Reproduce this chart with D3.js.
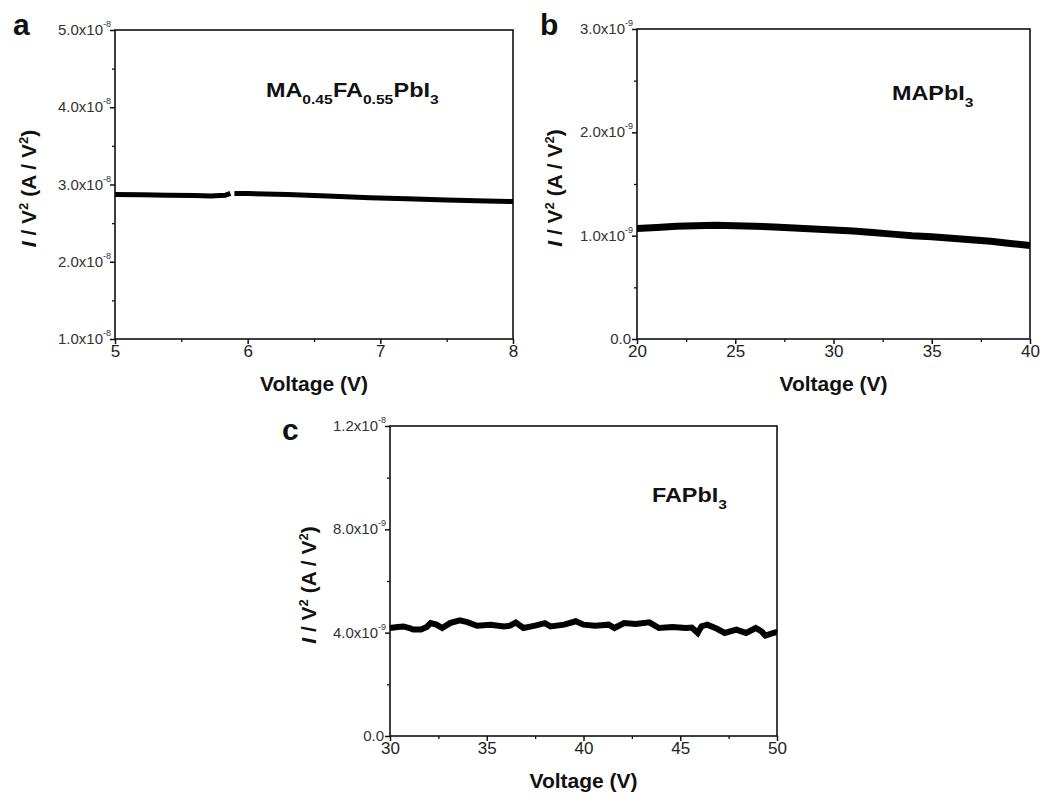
<!DOCTYPE html>
<html><head><meta charset="utf-8">
<script src="https://cdn.jsdelivr.net/npm/d3@7"></script>
<style>
body{margin:0;background:#fff;}
text{font-family:"Liberation Sans",Arial,sans-serif;}
</style></head>
<body><svg id="c" width="1052" height="799"></svg>
<script>
// ---- Panel a data (I/V^2 in units of 1e-8 A/V^2) ----
const aVoltage = [5.0, 5.2, 5.4, 5.6, 5.72, 5.83, 5.87, null, 5.9, 6.0, 6.3, 6.6, 6.92, 7.2, 7.5, 7.8, 8.0];
const aValue   = [2.87, 2.868, 2.862, 2.856, 2.85, 2.86, 2.885, null, 2.885, 2.882, 2.87, 2.85, 2.83, 2.815, 2.80, 2.787, 2.78];
const aYTicks = [1.0, 2.0, 3.0, 4.0, 5.0];
const aXTicks = [5, 6, 7, 8];

// ---- Panel b data (units of 1e-9 A/V^2) ----
const bVoltage = [20,21,22,23,24,25,26,27,28,29,30,31,32,33,34,35,36,37,38,39,40];
const bValue   = [1.07,1.08,1.09,1.095,1.10,1.095,1.09,1.085,1.075,1.065,1.055,1.045,1.03,1.015,1.0,0.99,0.975,0.96,0.945,0.925,0.905];
const bYTicks = [0, 1.0, 2.0, 3.0];
const bXTicks = [20, 25, 30, 35, 40];

// ---- Panel c data (units of 1e-9 A/V^2) ----
const cVoltage = [30,30.4,30.7,31.0,31.2,31.6,31.9,32.1,32.4,32.7,33.1,33.6,34.0,34.5,35.2,35.9,36.2,36.5,36.9,37.5,38.0,38.3,39.0,39.6,40.0,40.6,41.3,41.6,42.1,42.7,43.4,43.9,44.6,45.3,45.6,45.9,46.1,46.4,46.9,47.3,47.9,48.4,48.9,49.2,49.4,49.9,50];
const cValue   = [4.18,4.22,4.24,4.18,4.12,4.12,4.22,4.37,4.31,4.18,4.37,4.48,4.41,4.27,4.31,4.24,4.27,4.39,4.18,4.27,4.37,4.24,4.31,4.44,4.31,4.27,4.31,4.18,4.37,4.34,4.40,4.18,4.22,4.18,4.20,3.99,4.25,4.31,4.15,3.99,4.12,3.99,4.18,4.05,3.89,4.01,3.99];
const cYTicks = [0, 4.0, 8.0, 12.0];
const cXTicks = [30, 35, 40, 45, 50];

const svg = d3.select("#c");

function drawPanel(o){
  const g = svg.append("g");
  const x = d3.scaleLinear().domain(o.xDomain).range([o.left, o.right]);
  const y = d3.scaleLinear().domain(o.yDomain).range([o.bottom, o.top]);
  // minor ticks
  g.append("g").attr("transform",`translate(0,${o.bottom})`)
    .call(d3.axisBottom(x).tickValues(o.xMinor).tickSize(3).tickSizeOuter(0).tickFormat(""))
    .call(s=>{s.select(".domain").remove(); s.selectAll("line").attr("stroke","#111").attr("stroke-width",1.3);});
  g.append("g").attr("transform",`translate(${o.left},0)`)
    .call(d3.axisLeft(y).tickValues(o.yMinor).tickSize(3).tickSizeOuter(0).tickFormat(""))
    .call(s=>{s.select(".domain").remove(); s.selectAll("line").attr("stroke","#111").attr("stroke-width",1.3);});
  // major x
  g.append("g").attr("transform",`translate(0,${o.bottom})`)
    .call(d3.axisBottom(x).tickValues(o.xTicks).tickSize(5).tickSizeOuter(0).tickPadding(1).tickFormat(d3.format("d")))
    .call(s=>{s.select(".domain").remove();
      s.selectAll("line").attr("stroke","#111").attr("stroke-width",1.5);
      s.selectAll("text").attr("font-size",17).attr("fill","#222").attr("font-family","Liberation Sans, Arial");});
  // major y with custom labels
  const ya = g.append("g").attr("transform",`translate(${o.left},0)`)
    .call(d3.axisLeft(y).tickValues(o.yTicks).tickSize(5).tickSizeOuter(0).tickFormat(""));
  ya.select(".domain").remove();
  ya.selectAll("line").attr("stroke","#111").attr("stroke-width",1.5);
  o.yTicks.forEach(v=>{
    const t = g.append("text").attr("x", o.left-4).attr("y", y(v)+5)
      .attr("text-anchor","end").attr("font-size",15).attr("fill","#333");
    if (v === 0) { t.attr("x", o.left-6).text("0.0"); return; }
    let m = v, e = o.exp;
    if (v >= 10) { m = v/10; e = o.exp+1; }
    t.append("tspan").text(m.toFixed(1)+"x10");
    t.append("tspan").attr("dy",-8).attr("font-size",9).text("-"+(-e));
  });
  // frame
  g.append("rect").attr("x",o.left).attr("y",o.top).attr("width",o.right-o.left).attr("height",o.bottom-o.top)
    .attr("fill","none").attr("stroke","#111").attr("stroke-width",1.6);
  // data line
  const pts = o.vx.map((v,i)=>({v, val:o.vy[i]}));
  const line = d3.line().defined(d=>d.v!==null && d.val!==null).x(d=>x(d.v)).y(d=>y(d.val)).curve(o.curve||d3.curveLinear);
  g.append("path").datum(pts).attr("d",line).attr("fill","none").attr("stroke","#000")
    .attr("stroke-width",o.lw).attr("stroke-linejoin","miter").attr("stroke-linecap","butt");
  // x title
  g.append("text").attr("x",(o.left+o.right)/2).attr("y",o.bottom+52).attr("text-anchor","middle")
    .attr("font-size",21).attr("font-weight","bold").attr("fill","#111").text("Voltage (V)");
  // y title
  const yt = g.append("text").attr("transform",`translate(${o.ytx},${(o.top+o.bottom)/2+4}) rotate(-90)`)
    .attr("text-anchor","middle").attr("font-size",21).attr("font-weight","bold").attr("fill","#111");
  yt.append("tspan").attr("font-style","italic").text("I");
  yt.append("tspan").text(" / V");
  yt.append("tspan").attr("dy",-8).attr("font-size",13).text("2");
  yt.append("tspan").attr("dy",8).text(" (A / V");
  yt.append("tspan").attr("dy",-8).attr("font-size",13).text("2");
  yt.append("tspan").attr("dy",8).text(")");
  // panel letter
  g.append("text").attr("x",o.lx).attr("y",o.ly).attr("font-size",30).attr("font-weight","bold").attr("fill","#111").text(o.letter);
  // annotation
  const an = g.append("text").attr("transform",`translate(${o.ax},${o.ay}) scale(1.2,1)`)
    .attr("font-size",19.5).attr("font-weight","bold").attr("fill","#111");
  o.ann.forEach(p=>{
    if (p.sub) { an.append("tspan").attr("dy",7).attr("font-size",13).text(p.t); an.append("tspan").attr("dy",-7).attr("font-size",1).text(" "); }
    else an.append("tspan").text(p.t);
  });
}

drawPanel({letter:"a", lx:13, ly:35, left:115, right:513, top:30, bottom:339,
  xDomain:[5,8], yDomain:[1.0,5.0], exp:-8,
  xTicks:aXTicks, xMinor:[5.5,6.5,7.5], yTicks:aYTicks, yMinor:[1.5,2.5,3.5,4.5],
  vx:aVoltage, vy:aValue, lw:5, ytx:36,
  ax:266, ay:97, ann:[{t:"MA"},{t:"0.45",sub:true},{t:"FA"},{t:"0.55",sub:true},{t:"PbI"},{t:"3",sub:true}]});

drawPanel({letter:"b", lx:540, ly:35, left:637, right:1030, top:29, bottom:339,
  xDomain:[20,40], yDomain:[0,3.0], exp:-9,
  xTicks:bXTicks, xMinor:[22.5,27.5,32.5,37.5], yTicks:bYTicks, yMinor:[0.5,1.5,2.5],
  vx:bVoltage, vy:bValue, lw:7, ytx:562,
  ax:892, ay:100, ann:[{t:"MAPbI"},{t:"3",sub:true}]});

drawPanel({letter:"c", lx:282, ly:440, left:390, right:777, top:426, bottom:736,
  xDomain:[30,50], yDomain:[0,12.0], exp:-9,
  xTicks:cXTicks, xMinor:[32.5,37.5,42.5,47.5], yTicks:cYTicks, yMinor:[2,6,10],
  vx:cVoltage, vy:cValue, lw:6, ytx:316,
  ax:652, ay:502, ann:[{t:"FAPbI"},{t:"3",sub:true}]});
</script></body></html>
